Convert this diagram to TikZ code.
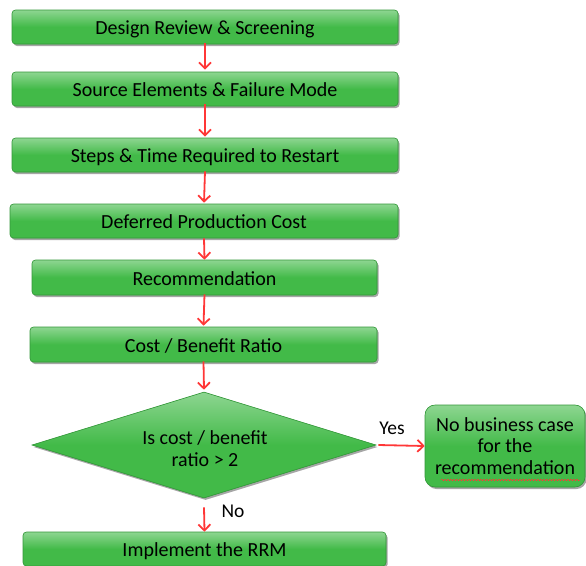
\documentclass[tikz,border=0pt]{standalone}
\usepackage{fontspec}
\setmainfont{Carlito}
\usetikzlibrary{shapes.geometric,shadows,arrows.meta,decorations.pathmorphing}
\definecolor{boxgreen}{RGB}{66,186,72}
\definecolor{boxedge}{RGB}{52,150,58}
\definecolor{arrred}{RGB}{255,55,55}
\tikzset{
  greenbase/.style={fill=boxgreen, draw=boxedge, line width=0.6pt,
    top color=boxgreen!60!white, bottom color=boxgreen, middle color=boxgreen,
    shading angle=0,
    drop shadow={shadow xshift=1.5pt, shadow yshift=-2pt, opacity=0.35, fill=black},
    inner sep=0pt, font=\fontsize{20}{22}\selectfont, text=black},
  stepbox/.style={greenbase, rectangle, rounded corners=3.5pt, minimum height=34pt,
    text height=15pt, text depth=0pt},
  decisionbox/.style={greenbase, diamond, minimum width=344pt, minimum height=106pt,
    shape aspect=3.25},
  endbox/.style={greenbase, rectangle, rounded corners=10pt, minimum width=160pt,
    minimum height=82pt, align=center, font=\fontsize{20}{21.5}\selectfont},
  flow/.style={draw=arrred, line width=1.8pt, -{Straight Barb[length=6pt,width=12pt,line width=1.8pt]}},
  lbl/.style={font=\fontsize{19.5}{22}\selectfont, text=black, inner sep=0pt, align=center}
}
\begin{document}
\begin{tikzpicture}[x=1pt,y=-1pt]
\useasboundingbox (0,0) rectangle (586,565);
\node[stepbox, minimum width=386pt] (b1) at (205,27) {Design Review \& Screening};
\node[stepbox, minimum width=386pt] (b2) at (205,89) {Source Elements \& Failure Mode};
\node[stepbox, minimum width=386pt] (b3) at (205,155) {Steps \& Time Required to Restart};
\node[stepbox, minimum width=388pt] (b4) at (204,221) {Deferred Production Cost};
\node[stepbox, minimum width=345pt, minimum height=35pt] (b5) at (204.5,277.5) {Recommendation};
\node[stepbox, minimum width=347pt, minimum height=35pt] (b6) at (203.5,344.5) {Cost / Benefit Ratio};
\node[decisionbox] (d) at (204,445) {};
\node[lbl, font=\fontsize{20}{22}\selectfont] (dt) at (205,449) {Is cost / benefit\\ratio > 2};
\node[endbox] (nb) at (505,446) {No business case\\for the\\recommendation};
\node[stepbox, minimum width=363pt] (impl) at (204.5,549) {Implement the RRM};
\draw[flow] ([yshift=1pt]b1.south) -- ([yshift=2pt]b2.north);
\draw[flow] ([yshift=2pt]b2.south) -- ([yshift=1pt]b3.north);
\draw[flow] ([yshift=1pt]b3.south) -- ([yshift=1pt]b4.north);
\draw[flow] ([yshift=0pt]b4.south) -- ([yshift=0pt]b5.north);
\draw[flow] ([yshift=1pt]b5.south) -- ([yshift=1pt]b6.north);
\draw[flow] ([yshift=1pt]b6.south) -- ([yshift=2pt]d.north);
\draw[flow] ([yshift=-9pt]d.south) -- (impl.north);
\draw[flow] ([xshift=2pt]d.east) -- (nb.west);
\node[lbl] (yes) at (392,428) {Yes};
\node[lbl] (no) at (233,511) {No};
\coordinate (sq1) at (441,480);
\coordinate (sq2) at (580,480);
\draw[arrred, line width=0.5pt, decorate, decoration={snake, amplitude=0.7pt, segment length=3pt}] (sq1) -- (sq2);
\end{tikzpicture}
\end{document}
